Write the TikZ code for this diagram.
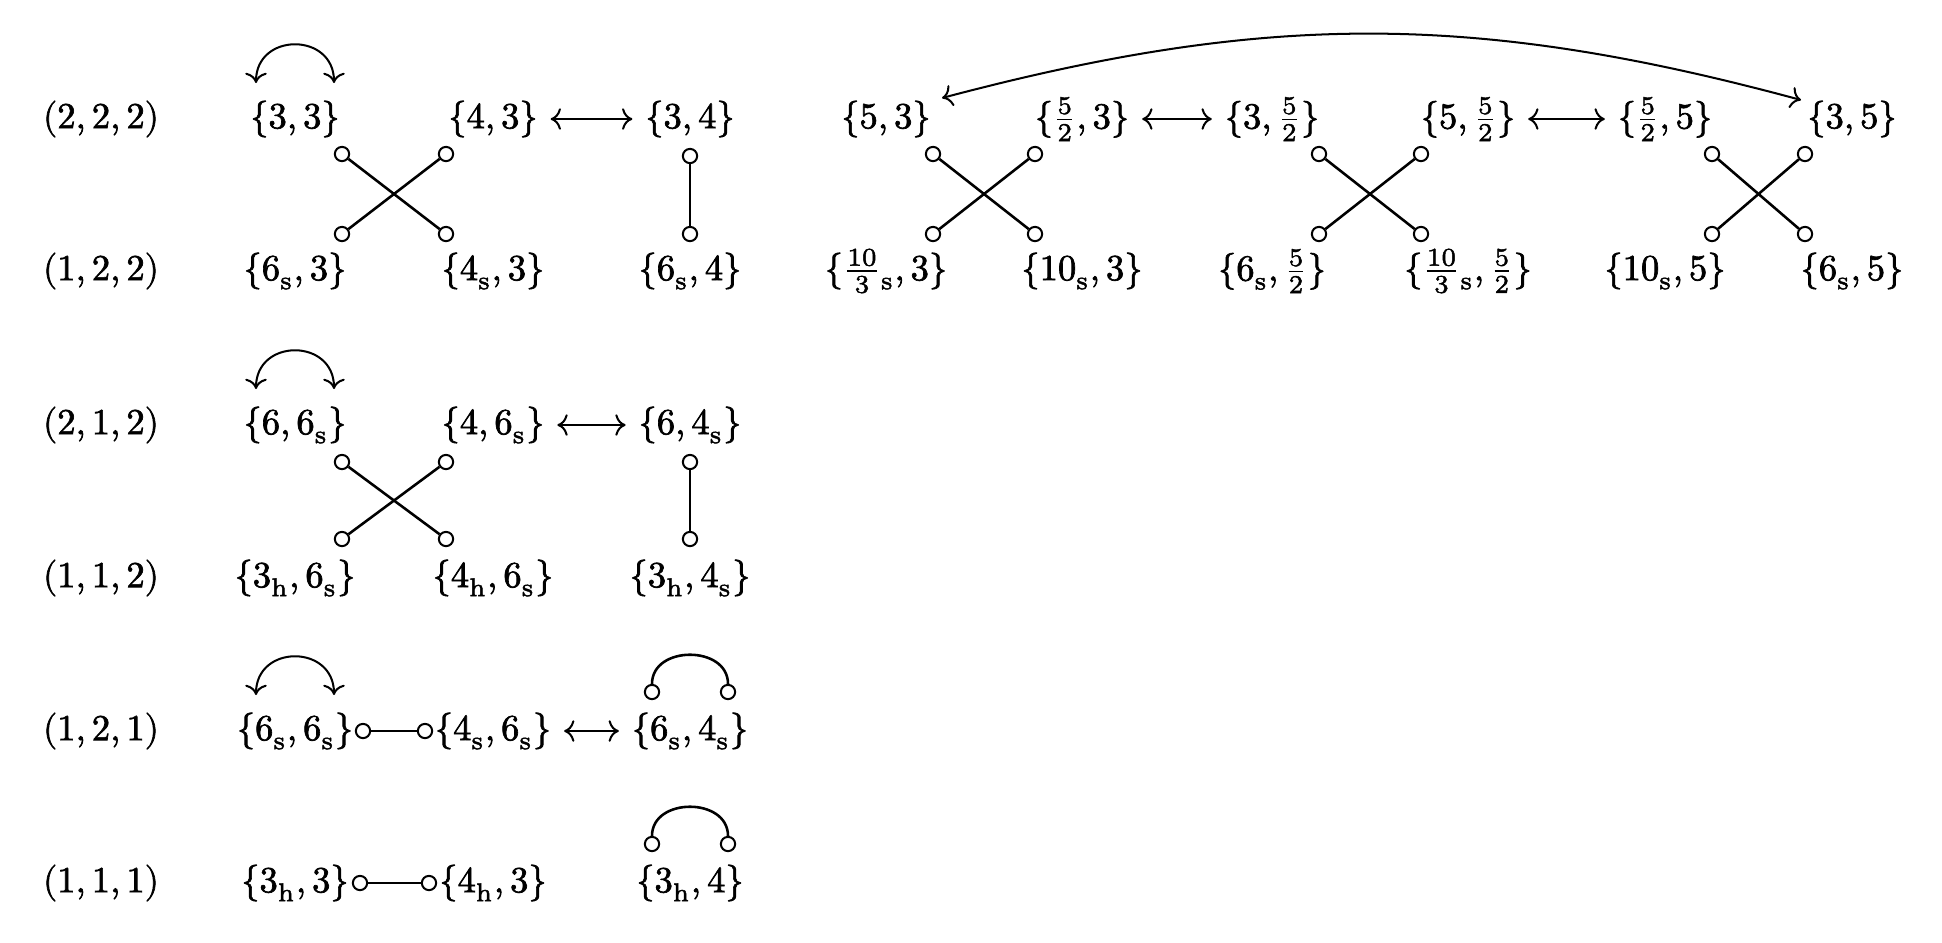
\documentclass[tikz,border=0pt]{standalone}
\usepackage{unicode-math}
\setmainfont{Latin Modern Roman}[FakeBold=1.8]
\setmathfont{Latin Modern Math}[FakeBold=1.8]
\usetikzlibrary{arrows.meta}
\begin{document}
\begin{tikzpicture}[x=0.2732pt,y=0.2732pt,
  dbl/.style={<->,line width=0.55pt},
  lnk/.style={line width=0.7pt},
  dot/.style={circle,draw,line width=0.55pt,inner sep=0pt,minimum size=3.9pt},
  lbl/.style={inner sep=3.333pt}]
\useasboundingbox (0,0) rectangle (1942,-942);
% row labels
\node[lbl] (r1) at (101,-119) {$(2,2,2)$};
\node[lbl] (r2) at (101,-271) {$(1,2,2)$};
\node[lbl] (r3) at (101,-425) {$(2,1,2)$};
\node[lbl] (r4) at (101,-578) {$(1,1,2)$};
\node[lbl] (r5) at (101,-731) {$(1,2,1)$};
\node[lbl] (r6) at (101,-883) {$(1,1,1)$};
% row 1
\node[lbl] (a1) at (295,-119) {$\{3,3\}$};
\node[lbl] (a2) at (493,-119) {$\{4,3\}$};
\node[lbl] (a3) at (690,-119) {$\{3,4\}$};
\node[lbl] (a4) at (886,-119) {$\{5,3\}$};
\node[lbl] (a5) at (1082,-119) {$\{\frac{5}{2},3\}$};
\node[lbl] (a6) at (1272,-119) {$\{3,\frac{5}{2}\}$};
\node[lbl] (a7) at (1468,-119) {$\{5,\frac{5}{2}\}$};
\node[lbl] (a8) at (1665,-119) {$\{\frac{5}{2},5\}$};
\node[lbl] (a9) at (1852,-119) {$\{3,5\}$};
% row 2
\node[lbl] (b1) at (295,-271) {$\{6_{\mathrm{s}},3\}$};
\node[lbl] (b2) at (493,-271) {$\{4_{\mathrm{s}},3\}$};
\node[lbl] (b3) at (690,-271) {$\{6_{\mathrm{s}},4\}$};
\node[lbl] (b4) at (886,-271) {$\{\frac{10}{3}{}_{\mathrm{s}},3\}$};
\node[lbl] (b5) at (1082,-271) {$\{10_{\mathrm{s}},3\}$};
\node[lbl] (b6) at (1272,-271) {$\{6_{\mathrm{s}},\frac{5}{2}\}$};
\node[lbl] (b7) at (1468,-271) {$\{\frac{10}{3}{}_{\mathrm{s}},\frac{5}{2}\}$};
\node[lbl] (b8) at (1665,-271) {$\{10_{\mathrm{s}},5\}$};
\node[lbl] (b9) at (1852,-271) {$\{6_{\mathrm{s}},5\}$};
% row 3
\node[lbl] (c1) at (295,-425) {$\{6,6_{\mathrm{s}}\}$};
\node[lbl] (c2) at (493,-425) {$\{4,6_{\mathrm{s}}\}$};
\node[lbl] (c3) at (690,-425) {$\{6,4_{\mathrm{s}}\}$};
% row 4
\node[lbl] (d1) at (295,-578) {$\{3_{\mathrm{h}},6_{\mathrm{s}}\}$};
\node[lbl] (d2) at (493,-578) {$\{4_{\mathrm{h}},6_{\mathrm{s}}\}$};
\node[lbl] (d3) at (690,-578) {$\{3_{\mathrm{h}},4_{\mathrm{s}}\}$};
% row 5
\node[lbl] (e1) at (295,-731) {$\{6_{\mathrm{s}},6_{\mathrm{s}}\}$};
\node[lbl] (e2) at (493,-731) {$\{4_{\mathrm{s}},6_{\mathrm{s}}\}$};
\node[lbl] (e3) at (690,-731) {$\{6_{\mathrm{s}},4_{\mathrm{s}}\}$};
% row 6
\node[lbl] (f1) at (295,-883) {$\{3_{\mathrm{h}},3\}$};
\node[lbl] (f2) at (493,-883) {$\{4_{\mathrm{h}},3\}$};
\node[lbl] (f3) at (690,-883) {$\{3_{\mathrm{h}},4\}$};
% double arrows
\draw[dbl] (a2) -- (a3);
\draw[dbl] (a5) -- (a6);
\draw[dbl] (a7) -- (a8);
\draw[dbl] (c2) -- (c3);
\draw[dbl] (e2) -- (e3);
\draw[dbl] ([shift={(56,21)}]a4.center) to[bend left=15] ([shift={(-51,19)}]a9.center);
% self arcs with arrows
\foreach \n in {a1,c1,e1}{
  \draw[dbl] ([shift={(-39,36)}]\n.center) .. controls +(0,51) and +(0,51) .. ([shift={(39,36)}]\n.center);
}
% crossings
\foreach \tl/\tr/\bl/\br/\ty/\by in {a1/a2/b1/b2/35/37,a4/a5/b4/b5/35/37,a6/a7/b6/b7/35/37,a8/a9/b8/b9/35/37,c1/c2/d1/d2/37/39}{
  \node[dot] (\tl x) at ([shift={(47,-\ty)}]\tl.center) {};
  \node[dot] (\tr x) at ([shift={(-47,-\ty)}]\tr.center) {};
  \node[dot] (\bl x) at ([shift={(47,\by)}]\bl.center) {};
  \node[dot] (\br x) at ([shift={(-47,\by)}]\br.center) {};
  \draw[lnk] (\tl x) -- (\br x);
  \draw[lnk] (\tr x) -- (\bl x);
}
% verticals
\node[dot] (a3x) at ([shift={(0,-37)}]a3.center) {};
\node[dot] (b3x) at ([shift={(0,37)}]b3.center) {};
\draw[lnk] (a3x) -- (b3x);
\node[dot] (c3x) at ([shift={(0,-37)}]c3.center) {};
\node[dot] (d3x) at ([shift={(0,39)}]d3.center) {};
\draw[lnk] (c3x) -- (d3x);
% horizontals
\node[dot] (e1x) at ([shift={(68,0)}]e1.center) {};
\node[dot] (e2x) at ([shift={(-68,0)}]e2.center) {};
\draw[lnk] (e1x) -- (e2x);
\node[dot] (f1x) at ([shift={(65,0)}]f1.center) {};
\node[dot] (f2x) at ([shift={(-64,0)}]f2.center) {};
\draw[lnk] (f1x) -- (f2x);
% self arcs with circles
\foreach \n in {e3,f3}{
  \node[dot] (\n l) at ([shift={(-38,39)}]\n.center) {};
  \node[dot] (\n r) at ([shift={(38,39)}]\n.center) {};
  \draw[lnk] (\n l) .. controls +(0,47) and +(0,47) .. (\n r);
}
\end{tikzpicture}
\end{document}
